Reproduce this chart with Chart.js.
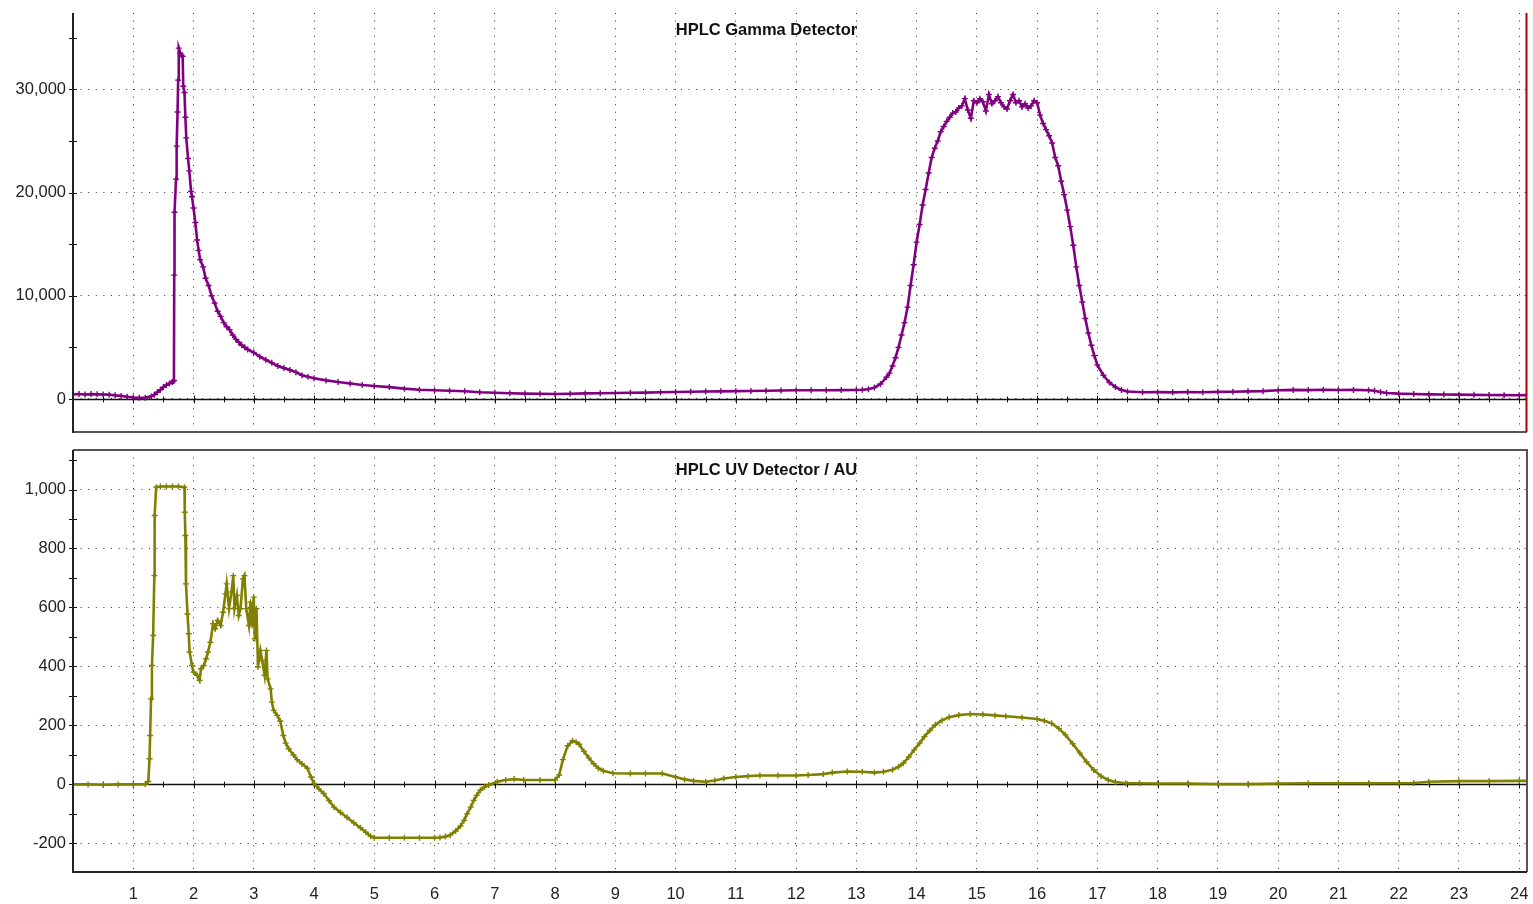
<!DOCTYPE html>
<html><head><meta charset="utf-8">
<script src="https://cdn.jsdelivr.net/npm/chart.js@4.4.1/dist/chart.umd.min.js"></script>
<style>
html,body{margin:0;padding:0;background:#fff;width:1533px;height:904px;overflow:hidden}
canvas{position:absolute;left:0}
#c1{top:0}
#c2{top:440px}
</style></head><body>
<canvas id="c1" width="1533" height="440"></canvas>
<canvas id="c2" width="1533" height="464"></canvas>
<script>
// ---- data (minutes) ----
const timeTicks = [1,2,3,4,5,6,7,8,9,10,11,12,13,14,15,16,17,18,19,20,21,22,23,24];
const gammaTicks = [0, 10000, 20000, 30000];
const uvTicks = [-200, 0, 200, 400, 600, 800, 1000];

const gammaTime = [
 0,0.1,0.2,0.3,0.4,0.5,0.6,0.7,0.8,0.9,
 1.0,1.1,1.2,1.3,1.35,1.4,1.45,1.5,1.55,1.6,
 1.65,1.67,1.675,1.68,1.685,1.71,1.72,1.735,1.745,1.755,
 1.78,1.8,1.82,1.83,1.85,1.865,1.88,1.91,1.93,1.96,
 1.975,2.0,2.03,2.06,2.085,2.11,2.16,2.2,2.25,2.3,
 2.35,2.4,2.45,2.5,2.55,2.6,2.65,2.7,2.75,2.8,
 2.85,2.9,3.0,3.1,3.2,3.3,3.4,3.5,3.6,3.7,
 3.8,3.9,4.0,4.2,4.4,4.6,4.8,5.0,5.25,5.5,
 5.75,6.0,6.25,6.5,6.75,7.0,7.25,7.5,7.75,8.0,
 8.25,8.5,8.75,9.0,9.25,9.5,9.75,10,10.25,10.5,
 10.75,11,11.25,11.5,11.75,12,12.25,12.5,12.75,13,
 13.1,13.2,13.3,13.4,13.5,13.55,13.6,13.65,13.7,13.75,
 13.8,13.85,13.9,13.95,14.0,14.05,14.1,14.15,14.2,14.25,
 14.3,14.35,14.4,14.45,14.5,14.55,14.6,14.65,14.7,14.75,
 14.8,14.85,14.9,14.95,15.0,15.05,15.1,15.15,15.2,15.25,
 15.3,15.35,15.4,15.45,15.5,15.55,15.6,15.65,15.7,15.75,
 15.8,15.85,15.9,15.95,16.0,16.05,16.1,16.15,16.2,16.25,
 16.3,16.35,16.4,16.45,16.5,16.55,16.6,16.65,16.7,16.75,
 16.8,16.85,16.9,16.95,17.0,17.1,17.2,17.3,17.4,17.5,
 17.75,18,18.25,18.5,18.75,19,19.25,19.5,19.75,20,
 20.25,20.5,20.75,21,21.25,21.5,21.6,21.7,21.8,22,
 22.25,22.5,22.75,23,23.25,23.5,23.75,24,24.13
];
const gammaCounts = [
 450,480,440,470,450,430,420,350,300,220,
 150,120,130,250,420,650,900,1150,1350,1500,
 1650,1750,1800,12000,18100,21300,24500,27800,30900,34000,
 33500,33300,33200,30300,29700,27300,25300,23300,22100,20100,
 19600,18500,17100,15400,14400,13500,12800,11700,11000,10000,
 9300,8500,8000,7400,7000,6700,6200,5800,5500,5200,
 5000,4800,4500,4100,3800,3500,3200,3000,2800,2600,
 2300,2150,2000,1800,1650,1500,1350,1250,1150,1000,
 900,850,800,750,650,600,550,520,500,480,
 500,540,560,580,600,620,650,670,700,720,
 740,760,780,800,820,840,850,850,860,870,
 900,950,1100,1450,2100,2500,3200,4000,5000,6200,
 7400,8900,11000,13000,15200,16900,18800,20300,21900,23400,
 24300,25000,25900,26400,26900,27300,27700,27800,28200,28400,
 29100,28000,27200,28900,28700,29100,28800,27900,29500,28600,
 28900,29300,28700,28300,28100,28900,29500,28700,28900,28300,
 28600,28200,28400,28900,28700,27500,26700,26100,25500,24800,
 23400,22600,21100,19800,18300,16700,14900,12800,11000,9400,
 7800,6400,5200,4200,3300,2300,1600,1150,870,720,
 650,660,640,680,650,690,700,740,760,850,
 880,860,900,870,880,850,800,680,580,520,
 480,450,440,420,400,380,370,360,370
];

const uvTime = [
 0,0.25,0.5,0.75,1.0,1.2,1.25,1.27,1.28,1.295,
 1.31,1.33,1.35,1.355,1.38,1.45,1.55,1.65,1.75,1.85,
 1.855,1.865,1.875,1.9,1.92,1.935,1.975,2.0,2.06,2.1,
 2.125,2.17,2.21,2.24,2.28,2.325,2.36,2.4,2.45,2.49,
 2.53,2.55,2.59,2.63,2.66,2.68,2.72,2.75,2.78,2.82,
 2.845,2.875,2.92,2.945,2.97,3.0,3.017,3.045,3.07,3.11,
 3.14,3.18,3.21,3.23,3.28,3.3,3.33,3.39,3.44,3.49,
 3.53,3.58,3.66,3.72,3.8,3.89,3.95,4.0,4.08,4.16,
 4.25,4.33,4.44,4.55,4.66,4.77,4.86,4.94,5.0,5.25,
 5.5,5.75,6.0,6.09,6.18,6.26,6.35,6.43,6.49,6.54,
 6.6,6.65,6.7,6.76,6.83,6.9,7.04,7.18,7.32,7.48,
 7.75,8.0,8.07,8.13,8.21,8.29,8.35,8.4,8.48,8.56,
 8.64,8.72,8.8,8.96,9.25,9.5,9.78,10.0,10.15,10.3,
 10.5,10.65,10.8,11.0,11.2,11.4,11.7,12.0,12.2,12.45,
 12.6,12.85,13.1,13.3,13.45,13.6,13.7,13.78,13.87,13.96,
 14.05,14.13,14.22,14.31,14.42,14.54,14.7,14.89,15.1,15.3,
 15.48,15.75,16.0,16.12,16.24,16.36,16.47,16.59,16.71,16.82,
 16.94,17.06,17.18,17.3,17.47,17.7,18,18.5,19,19.5,
 20,20.5,21,21.5,22,22.25,22.5,23,23.5,24,
 24.13
];
const uvAbs = [
 0,0,-1,0,0,1,10,87,166,290,
 403,505,708,912,1008,1010,1010,1010,1010,1008,
 923,844,680,578,511,449,403,381,370,353,
 392,403,426,449,482,545,528,556,539,584,
 646,680,596,652,708,596,641,573,596,697,
 708,596,539,618,539,635,494,596,398,454,
 420,370,454,358,324,279,251,234,215,166,
 140,121,100,84,70,55,25,3,-15,-31,
 -55,-77,-95,-112,-130,-147,-162,-176,-181,-181,
 -181,-181,-181,-180,-177,-172,-158,-141,-122,-100,
 -77,-54,-37,-20,-9,-2,9,15,18,15,
 15,15,32,84,131,148,143,136,112,90,
 70,55,46,38,37,37,37,25,17,12,
 9,13,20,25,28,30,30,30,32,35,
 40,44,43,40,43,50,60,72,93,117,
 140,162,183,202,217,228,235,239,237,234,
 231,227,222,216,207,190,168,138,106,77,
 49,28,15,8,4,4,3,3,1,1,
 3,4,4,4,4,5,9,11,11,12,
 12
];

// ---- helpers ----
const FONT = '"Liberation Sans", Arial, sans-serif';
const fmt = v => Number(v).toLocaleString('en-US');
const toXY = (xs, ys) => xs.map((t, i) => ({x: t, y: ys[i]}));

const framePlugin = {
  id: 'frame',
  beforeDatasetsDraw(chart, args, o) {
    const {ctx, chartArea: a, scales: {x, y}} = chart;
    ctx.save();
    const y0 = Math.round(y.getPixelForValue(0)) + 0.5;
    ctx.strokeStyle = '#111';
    ctx.lineWidth = 1.6;
    ctx.beginPath(); ctx.moveTo(a.left, y0); ctx.lineTo(a.right, y0); ctx.stroke();
    ctx.lineWidth = 1;
    for (let k = 1; k * 0.5 <= x.max; k++) {
      const px = Math.round(x.getPixelForValue(k * 0.5)) + 0.5;
      const h = (k % 2 === 0) ? 4 : 3;
      ctx.beginPath(); ctx.moveTo(px, y0 - h); ctx.lineTo(px, y0 + h); ctx.stroke();
    }
    for (let v = Math.ceil(y.min / o.minor) * o.minor; v <= y.max; v += o.minor) {
      const py = Math.round(y.getPixelForValue(v)) + 0.5;
      ctx.beginPath(); ctx.moveTo(a.left - 4, py); ctx.lineTo(a.left + 4, py); ctx.stroke();
    }
    ctx.restore();
  },
  afterDraw(chart, args, o) {
    const {ctx, chartArea: a} = chart;
    ctx.save();
    ctx.lineWidth = 2;
    ctx.strokeStyle = '#555';
    if (o.box) {
      ctx.beginPath();
      ctx.moveTo(a.left, a.top); ctx.lineTo(a.right, a.top); ctx.lineTo(a.right, a.bottom);
      ctx.stroke();
    }
    ctx.strokeStyle = o.box ? '#222' : '#555';
    ctx.beginPath(); ctx.moveTo(a.left, a.bottom); ctx.lineTo(a.right, a.bottom); ctx.stroke();
    ctx.strokeStyle = '#222';
    ctx.beginPath(); ctx.moveTo(a.left, a.top); ctx.lineTo(a.left, a.bottom + 1); ctx.stroke();
    if (o.cursor) {
      ctx.strokeStyle = '#b00000';
      ctx.beginPath(); ctx.moveTo(a.right - 0.5, a.top); ctx.lineTo(a.right - 0.5, a.bottom); ctx.stroke();
    }
    ctx.fillStyle = '#111';
    ctx.font = 'bold 16.5px ' + FONT;
    ctx.textAlign = 'center';
    ctx.textBaseline = 'alphabetic';
    ctx.fillText(o.title, chart.width / 2, a.top + o.titleOffset);
    ctx.restore();
  }
};

function makeChart(id, opts) {
  return new Chart(document.getElementById(id), {
    type: 'line',
    data: { datasets: [{
      data: toXY(opts.xs, opts.ys),
      borderColor: opts.color,
      backgroundColor: opts.color,
      borderWidth: 2.6,
      pointStyle: 'cross',
      pointRadius: 3,
      pointBorderWidth: 1.4,
      pointBorderColor: opts.color,
      tension: 0,
      fill: false
    }]},
    options: {
      responsive: false,
      animation: false,
      events: [],
      layout: { padding: opts.padding },
      plugins: {
        legend: { display: false },
        tooltip: { enabled: false },
        frame: { title: opts.title, titleOffset: opts.titleOffset, minor: opts.minor, box: opts.box, cursor: opts.cursor }
      },
      scales: {
        x: {
          type: 'linear', min: 0, max: 24.13,
          afterBuildTicks: s => { s.ticks = timeTicks.map(v => ({value: v})); },
          ticks: { display: opts.xLabels, maxRotation: 0, autoSkip: false, padding: 13,
                   color: '#222', font: { family: FONT, size: 16.5 }, callback: v => String(v) },
          grid: { color: '#333', lineWidth: 1, drawTicks: false },
          border: { display: false, dash: [1, 6.6] },
          afterFit: s => { s.height = opts.xHeight; s.paddingLeft = 0; s.paddingRight = 0; }
        },
        y: {
          type: 'linear', min: opts.yMin, max: opts.yMax,
          afterBuildTicks: s => { s.ticks = opts.yTicks.map(v => ({value: v})); },
          ticks: { padding: 7, color: '#222', font: { family: FONT, size: 16.5 }, callback: v => fmt(v) },
          grid: { color: '#333', lineWidth: 1, drawTicks: false },
          border: { display: false, dash: [1, 6.6] },
          afterFit: s => { s.width = 73; s.paddingTop = 0; s.paddingBottom = 0; }
        }
      }
    },
    plugins: [framePlugin]
  });
}

makeChart('c1', {
  xs: gammaTime, ys: gammaCounts, color: '#800080',
  title: 'HPLC Gamma Detector', titleOffset: 22,
  yMin: -3200, yMax: 37400, yTicks: gammaTicks, minor: 5000,
  padding: { left: 0, right: 6, top: 13, bottom: 8 },
  xLabels: false, xHeight: 0, box: false, cursor: true
});
makeChart('c2', {
  xs: uvTime, ys: uvAbs, color: '#808000',
  title: 'HPLC UV Detector / AU', titleOffset: 25,
  yMin: -297, yMax: 1134, yTicks: uvTicks, minor: 100,
  padding: { left: 0, right: 6, top: 10, bottom: 0 },
  xLabels: true, xHeight: 32, box: true, cursor: false
});
</script>
</body></html>
